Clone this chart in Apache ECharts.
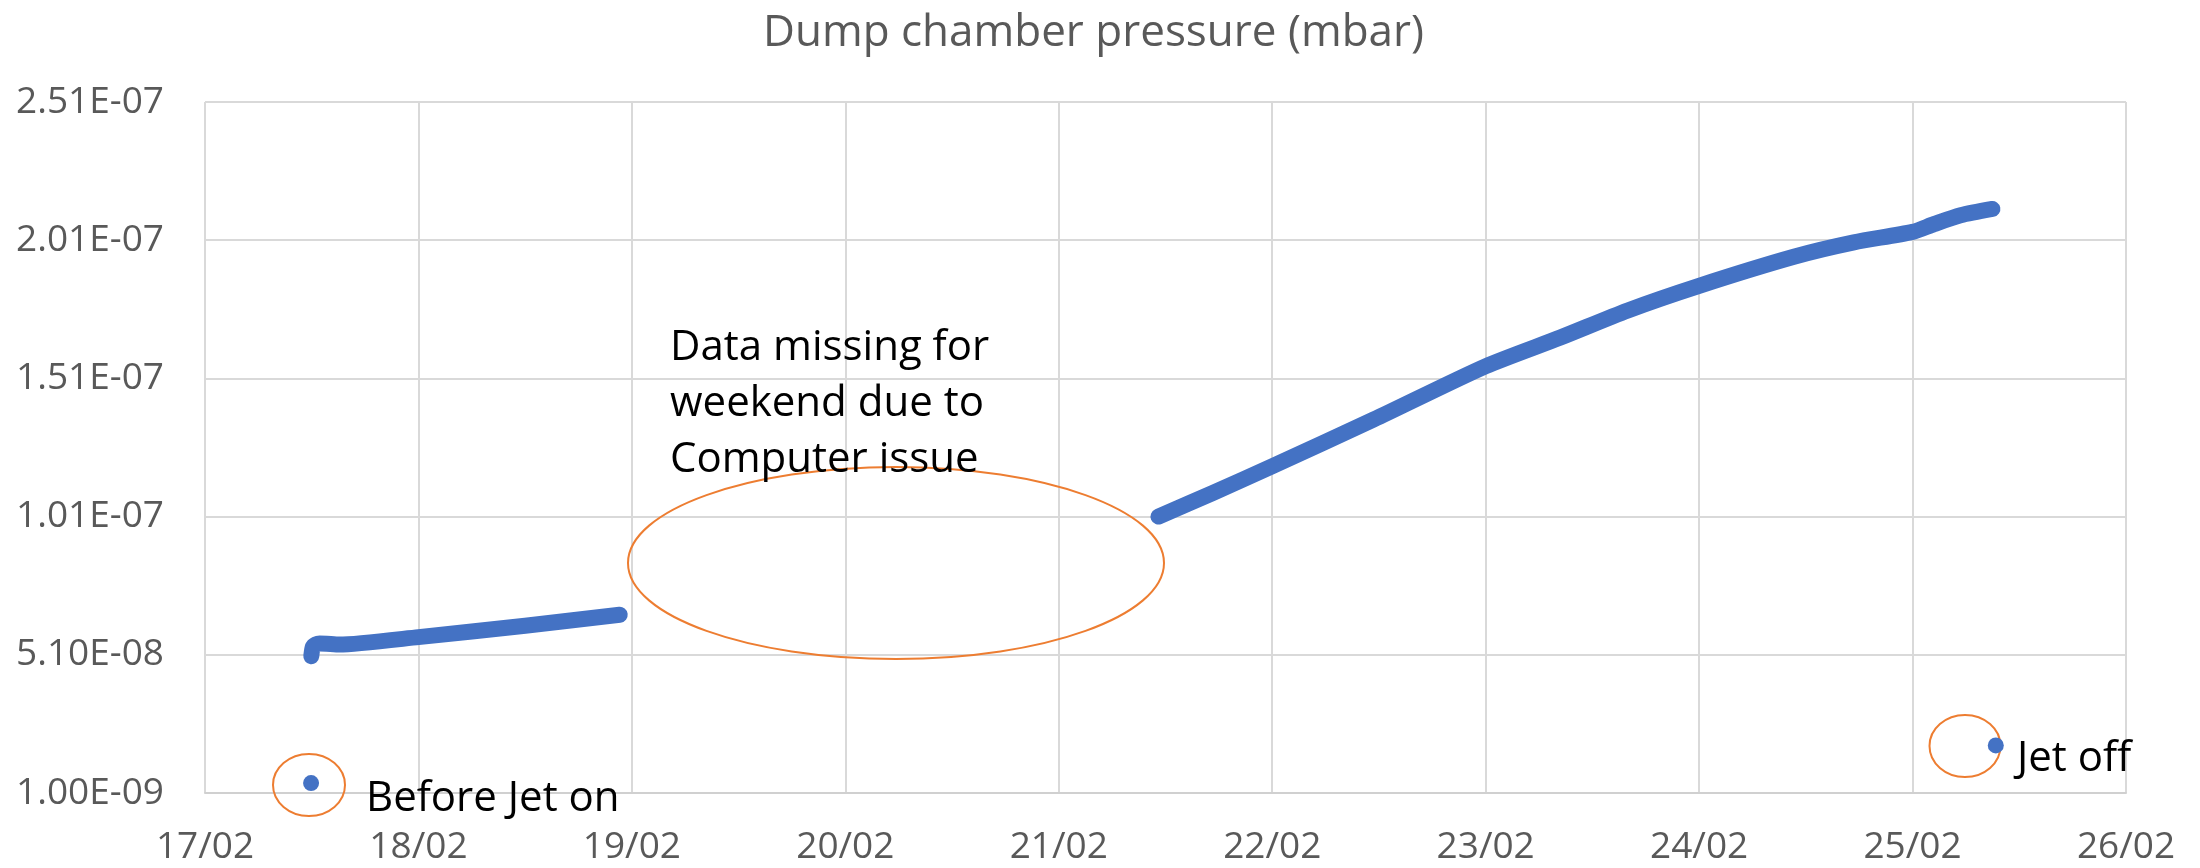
<!DOCTYPE html>
<html>
<head>
<meta charset="utf-8">
<title>Dump chamber pressure</title>
<script src="https://cdn.jsdelivr.net/npm/echarts@6/dist/echarts.min.js"></script>
<style>
  html, body { margin: 0; padding: 0; background: #fff; }
  #chart { width: 2200px; height: 868px; }
</style>
</head>
<body>
<div id="chart"></div>
<script>
// x values are days of February (17 -> 17/02 00:00)
var dayTicks = [17, 18, 19, 20, 21, 22, 23, 24, 25, 26];
var pressureTicks = [1.00e-9, 5.10e-8, 1.01e-7, 1.51e-7, 2.01e-7, 2.51e-7];

// logged pressure before the weekend
var beforeDays = [17.498, 17.505, 17.52, 17.537, 17.57, 17.63, 18.0, 18.5, 18.943];
var beforeValues = [5.05e-8, 5.38e-8, 5.48e-8, 5.51e-8, 5.5e-8, 5.47e-8, 5.74e-8, 6.15e-8, 6.55e-8];

// logged pressure after the gap
var afterDays = [21.467, 21.72, 22.0, 22.475, 23.0, 23.35, 23.666, 24.0, 24.444, 24.725, 25.0, 25.1, 25.225, 25.374];
var afterValues = [1.010e-7, 1.095e-7, 1.192e-7, 1.361e-7, 1.554e-7, 1.658e-7, 1.756e-7, 1.845e-7, 1.950e-7, 2.002e-7, 2.040e-7, 2.068e-7, 2.100e-7, 2.123e-7];

// single readings: before jet on, jet off
var singleDays = [17.497, 25.39];
var singleValues = [4.6e-9, 1.82e-8];

var FONT = '"Open Sans", "Noto Sans", sans-serif';
var BLUE = '#4472C4';
var ORANGE = '#ED7D31';

function zip(xs, ys) {
  return xs.map(function (x, i) { return [x, ys[i]]; });
}

function sci(v) {
  // Excel style 2.51E-07
  var s = v.toExponential(2).toUpperCase();
  return s.replace(/E([+-])(\d)$/, 'E$10$2');
}

var myChart = echarts.init(document.getElementById('chart'));

var option = {
  animation: false,
  backgroundColor: '#fff',
  title: {
    text: 'Dump chamber pressure (mbar)',
    left: 758,
    top: 6,
    textStyle: { fontFamily: FONT, fontSize: 44, fontWeight: 'normal', color: '#595959' }
  },
  grid: { left: 205, right: 74, top: 102, bottom: 75, outerBoundsMode: 'none' },
  xAxis: {
    type: 'value',
    min: dayTicks[0],
    max: dayTicks[dayTicks.length - 1],
    interval: dayTicks[1] - dayTicks[0],
    axisLine: { show: true, lineStyle: { color: '#D0D0D0', width: 2 } },
    axisTick: { show: false },
    splitLine: { show: true, lineStyle: { color: '#D9D9D9', width: 2 } },
    axisLabel: {
      margin: 36,
      fontFamily: FONT,
      fontSize: 37,
      color: '#595959',
      formatter: function (d) { return d + '/02'; }
    }
  },
  yAxis: {
    type: 'value',
    min: pressureTicks[0],
    max: pressureTicks[pressureTicks.length - 1],
    interval: pressureTicks[1] - pressureTicks[0],
    axisLine: { show: false },
    axisTick: { show: false },
    splitLine: { show: true, lineStyle: { color: '#D9D9D9', width: 2 } },
    axisLabel: {
      margin: 41,
      fontFamily: FONT,
      fontSize: 37,
      color: '#595959',
      formatter: sci
    }
  },
  series: [
    {
      name: 'before',
      type: 'line',
      data: zip(beforeDays, beforeValues),
      showSymbol: false,
      smooth: 0.2,
      lineStyle: { color: BLUE, width: 16, cap: 'round', join: 'round' },
      z: 3
    },
    {
      name: 'after',
      type: 'line',
      data: zip(afterDays, afterValues),
      showSymbol: false,
      smooth: 0.25,
      lineStyle: { color: BLUE, width: 16, cap: 'round', join: 'round' },
      z: 3
    },
    {
      name: 'single',
      type: 'scatter',
      data: zip(singleDays, singleValues),
      symbolSize: 16,
      itemStyle: { color: BLUE, opacity: 1 },
      z: 4
    }
  ],
  // hand drawn callouts, placed like shapes on the sheet
  graphic: [
    {
      type: 'ellipse', z: 1,
      shape: { cx: 309, cy: 785, rx: 36, ry: 31 },
      style: { fill: 'none', stroke: ORANGE, lineWidth: 2 }
    },
    {
      type: 'ellipse', z: 1,
      shape: { cx: 1965, cy: 746, rx: 35.5, ry: 31 },
      style: { fill: 'none', stroke: ORANGE, lineWidth: 2 }
    },
    {
      type: 'ellipse', z: 1,
      shape: { cx: 896, cy: 563, rx: 268, ry: 96 },
      style: { fill: 'none', stroke: ORANGE, lineWidth: 2 }
    },
    {
      type: 'text', z: 5, x: 366, y: 799,
      style: { text: 'Before Jet on', fontFamily: FONT, fontSize: 42, fill: '#000', verticalAlign: 'middle' }
    },
    {
      type: 'text', z: 5, x: 2017, y: 759,
      style: { text: 'Jet off', fontFamily: FONT, fontSize: 42, fill: '#000', verticalAlign: 'middle' }
    },
    {
      type: 'text', z: 5, x: 670, y: 404,
      style: {
        text: 'Data missing for\nweekend due to\nComputer issue',
        fontFamily: FONT, fontSize: 42, lineHeight: 56, fill: '#000', verticalAlign: 'middle'
      }
    }
  ]
};

myChart.setOption(option);
</script>
</body>
</html>
